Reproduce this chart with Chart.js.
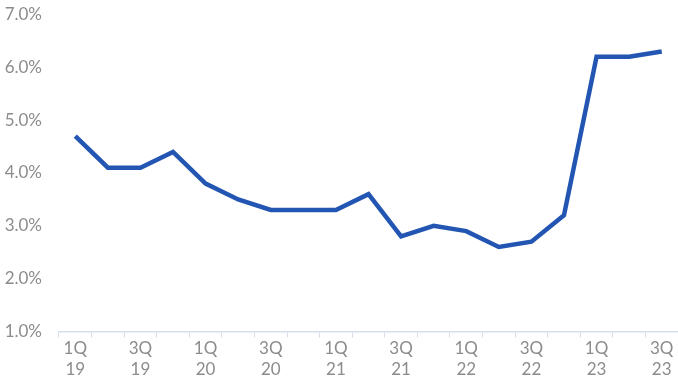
<!DOCTYPE html>
<html>
<head>
<meta charset="utf-8">
<script src="https://cdn.jsdelivr.net/npm/chart.js@4"></script>
<style>
  html, body { margin: 0; padding: 0; background: #fff; }
  #wrap { width: 678px; height: 381px; position: relative; }
</style>
</head>
<body>
<div id="wrap"><canvas id="chart"></canvas></div>
<script>
const quarters = ['1Q', '2Q', '3Q', '4Q', '1Q', '2Q', '3Q', '4Q', '1Q', '2Q', '3Q', '4Q',
    '1Q', '2Q', '3Q', '4Q', '1Q', '2Q', '3Q'];
const years = ['19', '19', '19', '19', '20', '20', '20', '20', '21', '21', '21', '21',
    '22', '22', '22', '22', '23', '23', '23'];
const rates = [4.7, 4.1, 4.1, 4.4, 3.8, 3.5, 3.3, 3.3, 3.3, 3.6, 2.8, 3.0,
    2.9, 2.6, 2.7, 3.2, 6.2, 6.2, 6.3];
const yMin = 1;
const yMax = 7;

const labels = quarters.map((q, i) => [q, years[i]]);

new Chart(document.getElementById('chart').getContext('2d'), {
    type: 'line',
    data: {
        labels: labels,
        datasets: [{
            data: rates,
            borderColor: '#2356b2',
            borderWidth: 4.5,
            pointRadius: 0,
            pointHoverRadius: 0,
            tension: 0,
            fill: false,
            borderJoinStyle: 'miter'
        }]
    },
    options: {
        responsive: true,
        maintainAspectRatio: false,
        animation: false,
        layout: { autoPadding: false, padding: { top: 3, right: 0, left: 0, bottom: 0 } },
        plugins: {
            legend: { display: false },
            tooltip: { enabled: false }
        },
        scales: {
            x: {
                offset: true,
                grid: {
                    display: true,
                    drawOnChartArea: false,
                    drawTicks: true,
                    tickLength: 6,
                    color: '#d6dfec',
                    offset: true
                },
                border: { display: true, color: '#d6dfec', width: 1.5 },
                ticks: {
                    autoSkip: false,
                    maxRotation: 0,
                    color: '#8c8c8c',
                    padding: 0.5,
                    font: { family: 'Lato', size: 17, lineHeight: 1.25 },
                    callback: function (value, index) {
                        return index % 2 === 0 ? labels[index] : '';
                    }
                }
            },
            y: {
                min: yMin,
                max: yMax,
                grid: { display: false, drawTicks: false },
                border: { display: false },
                // axis box: labels end at x=42, plot starts at x=59
                afterFit: s => { s.width = 59; s.paddingTop = 14.5; },
                ticks: {
                    stepSize: 1,
                    color: '#8c8c8c',
                    padding: 17,
                    font: { family: 'Lato', size: 17 },
                    callback: v => v.toFixed(1) + '%'
                }
            }
        }
    }
});
</script>
</body>
</html>
